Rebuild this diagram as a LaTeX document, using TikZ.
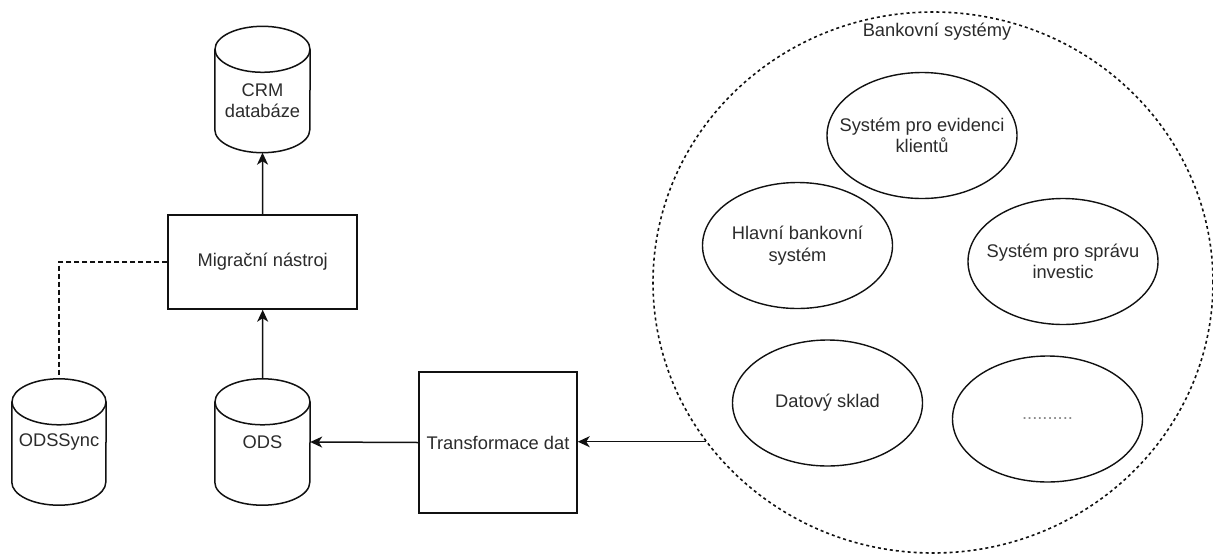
\documentclass[tikz,border=0pt]{standalone}
\usepackage{fontspec}
\setmainfont{Liberation Sans}
\usetikzlibrary{arrows.meta,shapes.geometric,calc}
\definecolor{inkline}{HTML}{111111}
\definecolor{inktext}{HTML}{2B2B2B}
\definecolor{dotgray}{HTML}{8A8A8A}
\begin{document}
\begin{tikzpicture}[x=1pt,y=1pt,
  font=\fontsize{18.3}{21.5}\selectfont,
  every node/.style={text=inktext, align=center},
  line/.style={draw=inkline, line width=1.5pt},
  arr/.style={line, -{Stealth[length=12pt, width=11pt, inset=3.5pt]}},
  procbox/.style={rectangle, line, fill=white, inner sep=0pt},
  dbbody/.style={rectangle, draw=none, inner sep=0pt, minimum width=95, minimum height=126},
  sysnode/.style={ellipse, draw=inkline, line width=1.4pt, inner sep=0pt, minimum width=190, minimum height=126},
  zone/.style={ellipse, draw=inkline, line width=1.6pt, dash pattern=on 3pt off 3pt,
               inner sep=0pt, minimum width=560, minimum height=541}
]
\useasboundingbox (0,0) rectangle (1213,-555);

% bank systems group
\node[zone] (bank) at (933,-282.5) {};
\node (banklabel) at (937,-32) {Bankovní systémy};

\node[sysnode, label={center:Systém pro evidenci\\klientů}] (evid) at (922,-135.5) {};
\node[sysnode, label={center:Hlavní bankovní\\systém}] (core) at (797.5,-245.5) {};
\node[sysnode, label={center:Systém pro správu\\investic}] (invest) at (1063,-261.5) {};
\node[sysnode, label={center:Datový sklad}] (dwh) at (827.5,-403) {};
\node[sysnode, label={[text=dotgray]center:..........}] (other) at (1047.5,-419) {};

% processing boxes
\node[procbox, minimum width=189, minimum height=94] (mig) at (262.7,-262) {Migrační nástroj};
\node[procbox, minimum width=158, minimum height=141] (trans) at (498,-442.5) {Transformace dat};

% databases
\node[dbbody, label={[yshift=-11pt]center:CRM\\databáze}] (crm) at (262.5,-89.5) {};
\node[dbbody] (ods) at (262.5,-442) {ODS};
\node[dbbody, minimum width=94] (sync) at (59,-442) {ODSSync};

% cylinder outlines: side walls, bottom rim and full top rim
\foreach \c/\r in {crm/47.5, ods/47.5, sync/47}{
  \draw[line] ($(\c.north west)+(0,-23)$) -- ($(\c.south west)+(0,23)$)
    arc[start angle=180, end angle=360, x radius=\r, y radius=23]
    -- ($(\c.north east)+(0,-23)$);
  \draw[line] ($(\c.north)+(0,-23)$) ellipse[x radius=\r, y radius=23];
}

% connectors
\draw[arr] (mig.north) -- (crm.south);
\draw[arr] (ods.north) -- (mig.south);
\draw[arr] (trans.west) -- (ods.east);
\draw[arr] (bank.215.45) -- (bank.215.45 -| trans.east);
\draw[line, dash pattern=on 5pt off 3pt] (mig.west) -| (sync.north);
\end{tikzpicture}
\end{document}
